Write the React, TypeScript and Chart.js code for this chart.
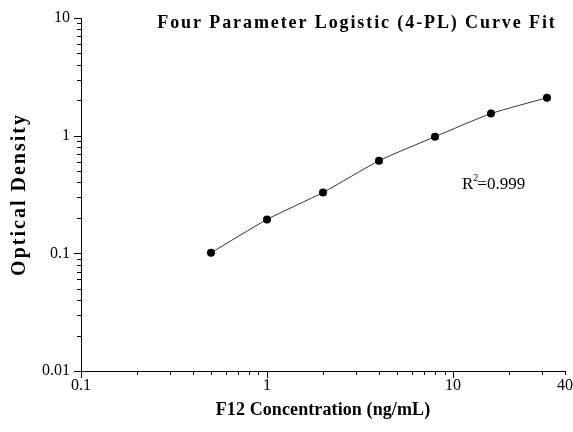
import React, { useEffect, useRef } from "react";
import { Chart, registerables } from "chart.js";

Chart.register(...registerables);

const concentrations = [0.5, 1, 2, 4, 8, 16, 32];
const opticalDensity = [0.101, 0.194, 0.329, 0.612, 0.98, 1.54, 2.1];

const xMajorTicks = [0.1, 1, 10];
const xLabelTicks = [0.1, 1, 10, 40];
const xMinorTicks = [0.2, 0.3, 0.4, 0.5, 0.6, 0.7, 0.8, 0.9, 2, 3, 4, 5, 6, 7, 8, 9, 20, 30, 40];
const yMajorTicks = [0.01, 0.1, 1, 10];
const yMinorTicks = [
  0.02, 0.03, 0.04, 0.05, 0.06, 0.07, 0.08, 0.09,
  0.2, 0.3, 0.4, 0.5, 0.6, 0.7, 0.8, 0.9,
  2, 3, 4, 5, 6, 7, 8, 9,
];

const titleText = "Four Parameter Logistic (4-PL) Curve Fit";
const xTitle = "F12 Concentration (ng/mL)";
const yTitle = "Optical Density";
const r2Value = "=0.999";

const SERIF = "'Liberation Serif', 'Times New Roman', serif";

const decorPlugin = {
  id: "decor",
  afterDraw(chart: any) {
    const { ctx, chartArea } = chart;
    const xs = chart.scales.x;
    const ys = chart.scales.y;
    ctx.save();
    ctx.strokeStyle = "#000";
    ctx.lineWidth = 1;
    ctx.beginPath();
    const b = chartArea.bottom;
    const l = chartArea.left;
    xMajorTicks.forEach((v) => {
      const p = Math.round(xs.getPixelForValue(v)) + 0.5;
      ctx.moveTo(p, b);
      ctx.lineTo(p, b + 7);
    });
    xMinorTicks.forEach((v) => {
      const p = Math.round(xs.getPixelForValue(v)) + 0.5;
      ctx.moveTo(p, b);
      ctx.lineTo(p, b + 4);
    });
    yMajorTicks.forEach((v) => {
      const p = Math.round(ys.getPixelForValue(v)) + 0.5;
      ctx.moveTo(l, p);
      ctx.lineTo(l - 7, p);
    });
    yMinorTicks.forEach((v) => {
      const p = Math.round(ys.getPixelForValue(v)) + 0.5;
      ctx.moveTo(l, p);
      ctx.lineTo(l - 4, p);
    });
    ctx.stroke();

    ctx.fillStyle = "#000";
    ctx.textAlign = "center";
    ctx.textBaseline = "middle";

    (ctx as any).letterSpacing = "1.9px";
    ctx.font = `bold 18px ${SERIF}`;
    ctx.fillText(titleText, 357, 23);

    (ctx as any).letterSpacing = "0.1px";
    ctx.font = `bold 18px ${SERIF}`;
    ctx.fillText(xTitle, (chartArea.left + chartArea.right) / 2, 410);

    ctx.save();
    ctx.translate(20, (chartArea.top + chartArea.bottom) / 2);
    ctx.rotate(-Math.PI / 2);
    (ctx as any).letterSpacing = "2px";
    ctx.font = `bold 20px ${SERIF}`;
    ctx.fillText(yTitle, 0, 0);
    ctx.restore();

    (ctx as any).letterSpacing = "0px";
    ctx.font = `17px ${SERIF}`;
    ctx.textAlign = "left";
    ctx.textBaseline = "alphabetic";
    const rx = 462;
    const ry = 189;
    ctx.fillText("R", rx, ry);
    const rw = ctx.measureText("R").width;
    ctx.font = `10px ${SERIF}`;
    ctx.fillText("2", rx + rw, ry - 8);
    const sw = ctx.measureText("2").width;
    ctx.font = `17px ${SERIF}`;
    ctx.fillText(r2Value, rx + rw + sw - 1, ry);
    ctx.restore();
  },
};

export default function App() {
  const ref = useRef<HTMLCanvasElement>(null);
  useEffect(() => {
    document.body.style.margin = "0";
    const chart = new Chart(ref.current!, {
      type: "scatter",
      data: {
        datasets: [
          {
            data: concentrations.map((c, i) => ({ x: c, y: opticalDensity[i] })),
            showLine: true,
            borderColor: "#333",
            borderWidth: 1,
            tension: 0.2,
            pointRadius: 4,
            pointBackgroundColor: "#000",
            pointBorderColor: "#000",
            pointBorderWidth: 0,
          },
        ],
      },
      options: {
        animation: false,
        responsive: false,
        layout: { padding: { top: 18, right: 8, left: 0, bottom: 0 } },
        plugins: { legend: { display: false }, tooltip: { enabled: false }, title: { display: false } },
        scales: {
          x: {
            type: "logarithmic",
            min: 0.1,
            max: 40,
            afterBuildTicks: (s: any) => {
              s.ticks = xLabelTicks.map((v) => ({ value: v }));
            },
            afterFit: (s: any) => {
              s.height = 61;
              s.paddingLeft = 0;
              s.paddingRight = 0;
            },
            grid: { display: false, drawTicks: false },
            border: { display: true, color: "#000", width: 1 },
            ticks: {
              autoSkip: false,
              maxRotation: 0,
              padding: 5,
              color: "#000",
              font: { family: SERIF, size: 16 },
              callback: (v: any) => String(v),
            },
          },
          y: {
            type: "logarithmic",
            min: 0.01,
            max: 10,
            afterBuildTicks: (s: any) => {
              s.ticks = yMajorTicks.map((v) => ({ value: v }));
            },
            afterFit: (s: any) => {
              s.width = 81;
              s.paddingTop = 0;
              s.paddingBottom = 0;
            },
            grid: { display: false, drawTicks: false },
            border: { display: true, color: "#000", width: 1 },
            ticks: {
              autoSkip: false,
              padding: 11,
              color: "#000",
              font: { family: SERIF, size: 16 },
              callback: (v: any) => String(v),
            },
          },
        },
      },
      plugins: [decorPlugin],
    } as any);
    return () => chart.destroy();
  }, []);
  return <canvas ref={ref} width={573} height={432} style={{ display: "block" }} />;
}
